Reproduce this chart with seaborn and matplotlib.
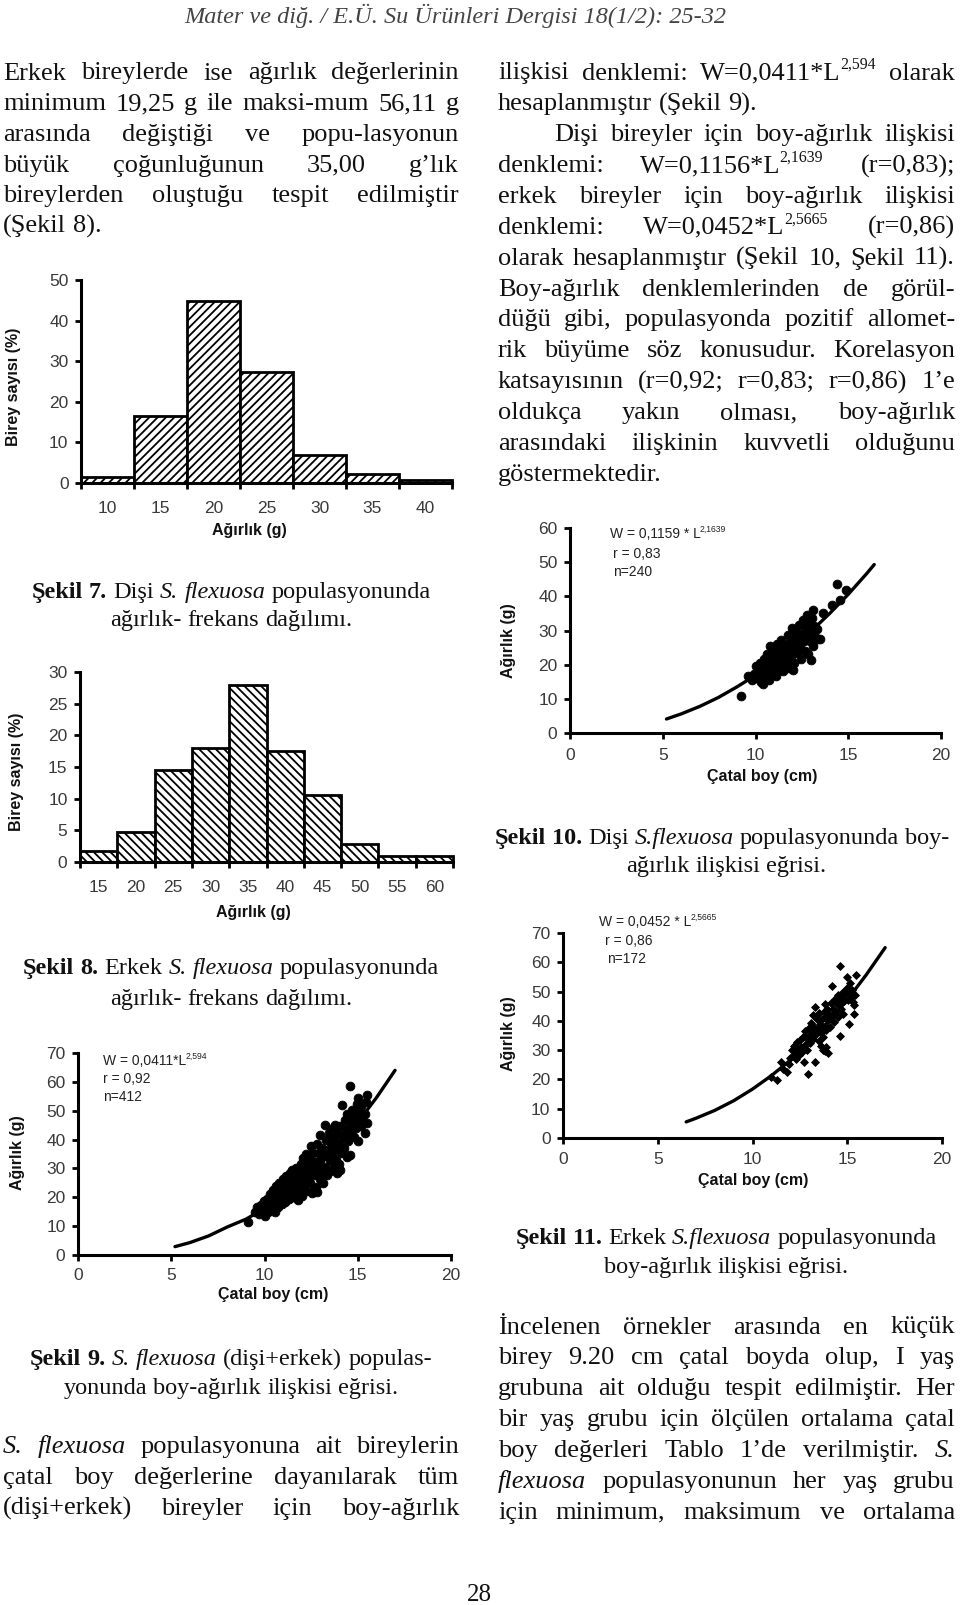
import numpy as np
import pandas as pd
import matplotlib
matplotlib.use("Agg")
import matplotlib.pyplot as plt
import seaborn as sns

# Page: two text columns with five figures (Şekil 7-11)

# Şekil 7 - dişi, ağırlık-frekans (%)
f7_bins = ["10", "15", "20", "25", "30", "35", "40"]
f7_pct = [1.5, 16.6, 44.8, 27.3, 7.0, 2.3, 0.8]

# Şekil 8 - erkek, ağırlık-frekans (%)
f8_bins = ["15", "20", "25", "30", "35", "40", "45", "50", "55", "60"]
f8_pct = [1.7, 4.7, 14.5, 18.0, 28.0, 17.5, 10.6, 2.9, 1.0, 1.0]

# Şekil 9 - dişi+erkek, boy (cm) / ağırlık (g)
f9_points = [
    (9.13, 11.3), (9.5, 15.0), (9.6, 16.8), (9.7, 14.2), (9.8, 17.5), (9.9, 15.6), (9.95, 18.8), (10.0, 13.6),
    (10.1, 16.2), (10.15, 19.5), (10.2, 14.8), (10.25, 17.8), (10.3, 21.0), (10.35, 15.5), (10.4, 19.0),
    (10.45, 22.5), (10.5, 17.2), (10.5, 20.3), (10.55, 14.9), (10.6, 23.8), (10.65, 18.6), (10.7, 21.5),
    (10.75, 16.6), (10.8, 25.0), (10.85, 19.8), (10.9, 22.8), (10.95, 17.8), (11.0, 26.2), (11.0, 20.9),
    (11.05, 23.9), (11.1, 18.5), (11.15, 27.3), (11.2, 21.7), (11.25, 25.0), (11.3, 19.4), (11.35, 28.4),
    (11.4, 23.0), (11.45, 26.1), (11.5, 20.2), (11.5, 29.6), (11.55, 24.4), (11.6, 27.5), (11.65, 21.4),
    (11.7, 30.2), (11.75, 25.6), (11.8, 18.9), (11.85, 28.7), (11.9, 23.2), (11.95, 31.4), (12.0, 26.8),
    (12.0, 20.6), (12.05, 33.6), (12.1, 24.4), (12.15, 29.6), (12.2, 35.0), (12.25, 22.1), (12.3, 31.8),
    (12.35, 27.2), (12.4, 33.4), (12.45, 24.9), (12.5, 37.6), (12.5, 29.9), (12.55, 21.5), (12.6, 35.5),
    (12.6, 22.3), (12.65, 27.6), (12.7, 32.2), (12.75, 23.7), (12.8, 38.6), (12.8, 22.0), (12.85, 30.4),
    (12.9, 35.3), (12.95, 26.2), (13.0, 41.7), (13.0, 32.8), (13.05, 28.9), (13.1, 37.2), (13.15, 24.8),
    (13.2, 34.7), (13.25, 45.1), (13.25, 30.6), (13.3, 39.8), (13.35, 27.6), (13.4, 36.3), (13.45, 42.4),
    (13.5, 32.9), (13.5, 29.0), (13.55, 38.7), (13.6, 34.8), (13.65, 44.0), (13.7, 31.1), (13.75, 40.5),
    (13.8, 45.1), (13.8, 36.6), (13.85, 33.0), (13.9, 28.4), (13.95, 42.0), (14.0, 38.5), (14.0, 31.6),
    (14.05, 29.5), (14.05, 44.8), (14.1, 35.4), (14.15, 51.9), (14.2, 40.6), (14.25, 37.1), (14.3, 46.7),
    (14.35, 42.8), (14.4, 33.8), (14.45, 48.9), (14.5, 44.1), (14.5, 39.4), (14.56, 58.7), (14.56, 34.7),
    (14.6, 47.3), (14.65, 42.0), (14.7, 50.2), (14.75, 45.4), (14.8, 40.8), (14.85, 48.6), (14.9, 43.9),
    (14.95, 52.5), (15.0, 46.9), (15.04, 54.4), (15.04, 39.4), (15.1, 49.7), (15.15, 44.6), (15.2, 51.8),
    (15.25, 47.9), (15.3, 45.7), (15.4, 42.2), (15.4, 48.8), (15.45, 53.0), (15.5, 55.6), (15.5, 45.7),
]
f9_curve = [(5.2, 2.9), (6, 4.3), (7, 6.6), (8, 9.7), (9, 12.4), (10, 16.1), (11, 20.6), (12, 25.6),
            (13, 31.5), (14, 38.3), (15, 46.0), (16, 54.5), (17, 64.0)]

# Şekil 10 - dişi
f10_points = [
    (9.22, 10.7), (9.6, 16.6), (9.8, 15.5), (9.9, 17.4), (10.0, 19.5), (10.1, 16.2), (10.2, 18.1),
    (10.25, 20.4), (10.3, 15.0), (10.35, 17.2), (10.4, 14.3), (10.45, 21.6), (10.5, 19.0), (10.55, 16.4),
    (10.6, 23.0), (10.65, 18.0), (10.7, 20.8), (10.75, 15.6), (10.8, 25.6), (10.85, 22.3), (10.9, 17.5),
    (10.95, 19.7), (11.0, 24.1), (11.05, 21.1), (11.1, 16.8), (11.15, 26.0), (11.2, 22.8), (11.25, 19.0),
    (11.3, 24.9), (11.35, 20.6), (11.4, 27.3), (11.45, 23.6), (11.5, 18.2), (11.55, 21.9), (11.6, 25.8),
    (11.65, 20.2), (11.7, 23.3), (11.75, 28.6), (11.8, 19.0), (11.85, 26.7), (11.9, 22.1), (11.95, 30.6),
    (12.0, 24.6), (12.0, 18.5), (12.05, 28.3), (12.1, 20.5), (12.15, 26.3), (12.2, 29.9), (12.25, 23.4),
    (12.3, 27.5), (12.35, 31.5), (12.4, 25.1), (12.45, 21.6), (12.5, 29.0), (12.55, 33.0), (12.6, 26.8),
    (12.65, 24.0), (12.7, 30.8), (12.75, 28.0), (12.8, 34.4), (12.85, 23.0), (12.9, 32.1), (12.95, 27.0),
    (13.0, 29.9), (13.0, 21.5), (13.05, 33.8), (13.1, 36.1), (13.1, 25.6), (13.15, 31.2), (13.2, 28.2),
    (13.3, 30.5), (13.35, 27.6), (13.48, 27.5), (13.66, 35.1), (14.1, 37.6), (14.41, 43.7), (14.55, 39.0),
    (14.86, 41.95),
]
f10_curve = [(5.2, 4.1), (6, 5.6), (7, 7.8), (8, 10.4), (9, 13.5), (10, 16.9), (11, 20.8), (12, 25.1),
             (13, 29.8), (14, 35.0), (15, 40.6), (16, 46.7), (16.4, 49.3)]

# Şekil 11 - erkek
f11_points = [
    (11.0, 20.8), (11.28, 19.7), (11.5, 26.0), (11.63, 23.7), (11.8, 22.6), (11.9, 25.2), (12.0, 27.4),
    (12.1, 30.2), (12.15, 28.0), (12.2, 31.5), (12.25, 29.2), (12.3, 27.0), (12.35, 32.8), (12.4, 30.0),
    (12.45, 28.4), (12.5, 33.5), (12.55, 31.0), (12.6, 29.4), (12.65, 34.6), (12.7, 26.0), (12.75, 36.5),
    (12.8, 32.0), (12.85, 34.0), (12.9, 30.2), (12.95, 22.0), (13.0, 37.5), (13.0, 35.0), (13.05, 32.6),
    (13.1, 39.4), (13.15, 36.2), (13.2, 42.1), (13.2, 33.8), (13.25, 38.0), (13.3, 44.7), (13.3, 26.0),
    (13.35, 35.6), (13.4, 40.5), (13.45, 37.2), (13.5, 33.2), (13.5, 42.8), (13.55, 38.8), (13.6, 36.0),
    (13.6, 31.5), (13.65, 40.8), (13.7, 34.5), (13.7, 30.0), (13.75, 43.0), (13.8, 45.6), (13.8, 38.2),
    (13.85, 41.0), (13.85, 29.6), (13.9, 31.1), (13.9, 36.8), (13.95, 44.0), (14.0, 29.0), (14.0, 40.2),
    (14.05, 42.5), (14.1, 38.0), (14.15, 46.0), (14.19, 51.8), (14.2, 41.5), (14.25, 44.2), (14.3, 39.6),
    (14.35, 47.5), (14.4, 43.0), (14.45, 45.6), (14.5, 41.2), (14.5, 48.8), (14.55, 46.2), (14.63, 58.6),
    (14.63, 34.7), (14.65, 44.0), (14.7, 47.8), (14.75, 50.0), (14.8, 42.4), (14.85, 46.8), (14.9, 49.2),
    (14.98, 55.0), (15.0, 51.2), (15.05, 47.0), (15.07, 39.0), (15.1, 49.6), (15.15, 53.0), (15.2, 48.2),
    (15.25, 50.6), (15.3, 46.4), (15.38, 45.3), (15.38, 42.5), (15.4, 49.0), (15.47, 55.5),
]
f11_curve = [(6.5, 5.5), (7, 6.7), (8, 9.4), (9, 12.7), (10, 16.7), (11, 21.3), (12, 26.6), (13, 32.7),
             (14, 39.5), (15, 47.2), (16, 55.7), (17, 65.0)]

sns.set_theme(style="ticks")
plt.rcParams["font.family"] = ["Liberation Sans", "DejaVu Sans"]
plt.rcParams["hatch.linewidth"] = 1.3

W_PX, H_PX = 960, 1605
fig = plt.figure(figsize=(9.6, 16.05), dpi=100)
fig.patch.set_facecolor("white")
renderer = fig.canvas.get_renderer()

SERIF = "Liberation Serif"
BODY = 19.0
CAP = 17.5
TICK_FS = 12.5
LAB_FS = 11.5


def fy(y):
    return 1 - y / H_PX


def axes_px(left, top, right, bottom):
    return fig.add_axes([left / W_PX, fy(bottom), (right - left) / W_PX, (bottom - top) / H_PX])


def style_axes(ax, xpad, ypad=5):
    for s in ["top", "right"]:
        ax.spines[s].set_visible(False)
    for s in ["left", "bottom"]:
        ax.spines[s].set_linewidth(2.2)
        ax.spines[s].set_color("black")
    ax.tick_params(which="major", direction="out", length=4, width=2, color="black",
                   labelsize=TICK_FS, labelcolor="#3a3a3a")
    ax.tick_params(axis="y", pad=ypad)
    ax.tick_params(axis="x", pad=xpad)
    ax.set_xlabel("")
    ax.set_ylabel("")
    ax.set_facecolor("none")


def histogram(ax, bins, pct, ymax, step, hatch, label_pad):
    sns.barplot(x=bins, y=pct, color="white", edgecolor="black", linewidth=2,
                width=1.0, saturation=1, errorbar=None, ax=ax)
    for p in ax.patches:
        p.set_hatch(hatch)
        p.set_facecolor("white")
        p.set_clip_on(False)
    n = len(bins)
    ax.set_xlim(-0.5, n - 0.5)
    ax.set_ylim(0, ymax)
    ax.set_yticks(np.arange(0, ymax + 1, step))
    ax.set_xticks(np.arange(n + 1) - 0.5, [""] * (n + 1))
    ax.set_xticks(np.arange(n), bins, minor=True)
    style_axes(ax, xpad=0)
    ax.tick_params(axis="x", which="minor", length=0, pad=label_pad,
                   labelsize=TICK_FS, labelcolor="#3a3a3a")


def scatter(ax, points, curve, ymax, marker, size, xpad):
    pts = pd.DataFrame(points, columns=["boy", "agirlik"])
    crv = pd.DataFrame(curve, columns=["boy", "agirlik"])
    sns.lineplot(data=crv, x="boy", y="agirlik", color="black", linewidth=2.4, ax=ax)
    sns.scatterplot(data=pts, x="boy", y="agirlik", color="black", marker=marker, s=size,
                    edgecolor="black", linewidth=0.6, ax=ax)
    ax.set_xlim(0, 20)
    ax.set_ylim(0, ymax)
    ax.set_xticks(np.arange(0, 21, 5))
    ax.set_yticks(np.arange(0, ymax + 1, 10))
    style_axes(ax, xpad=xpad)


def axis_label(x, y, s, rot=0):
    fig.text(x / W_PX, fy(y), s, fontsize=LAB_FS, fontweight="bold", rotation=rot,
             ha="center", va="center", color="#111111")


def eq_label(x, y, base, sup, fs=10):
    t = fig.text(x / W_PX, fy(y), base, fontsize=fs, va="baseline", color="#222222")
    w = t.get_window_extent(renderer).width
    fig.text((x + w - 1) / W_PX, fy(y - fs * 0.6), sup, fontsize=fs * 0.62,
             va="baseline", color="#222222")


# ---- charts ----
ax7 = axes_px(81, 280, 452, 483)
histogram(ax7, f7_bins, f7_pct, 50, 10, "////", 13)
axis_label(249, 531, "Ağırlık (g)")
axis_label(14, 387, "Birey sayısı (%)", 90)

ax8 = axes_px(80, 672, 453, 862)
histogram(ax8, f8_bins, f8_pct, 30, 5, "\\\\\\\\", 13)
axis_label(253, 912, "Ağırlık (g)")
axis_label(17, 772, "Birey sayısı (%)", 90)

ax9 = axes_px(78, 1053, 451, 1255)
scatter(ax9, f9_points, f9_curve, 70, "o", 40, 5.5)
axis_label(273, 1295, "Çatal boy (cm)")
axis_label(18, 1153, "Ağırlık (g)", 90)
eq_label(103, 1065, "W = 0,0411*L", "2,594")
fig.text(103 / W_PX, fy(1083), "r = 0,92", fontsize=10, va="baseline", color="#222222")
fig.text(103 / W_PX, fy(1101), "n=412", fontsize=10, va="baseline", color="#222222")

ax10 = axes_px(570, 528, 941, 733)
scatter(ax10, f10_points, f10_curve, 60, "o", 40, 7)
axis_label(762, 777, "Çatal boy (cm)")
axis_label(509, 641, "Ağırlık (g)", 90)
eq_label(610, 538, "W = 0,1159 * L", "2,1639")
fig.text(613 / W_PX, fy(558), "r = 0,83", fontsize=10, va="baseline", color="#222222")
fig.text(613 / W_PX, fy(576), "n=240", fontsize=10, va="baseline", color="#222222")

ax11 = axes_px(563, 933, 942, 1138)
scatter(ax11, f11_points, f11_curve, 70, "D", 16, 6)
axis_label(753, 1181, "Çatal boy (cm)")
axis_label(509, 1034, "Ağırlık (g)", 90)
eq_label(599, 926, "W = 0,0452 * L", "2,5665")
fig.text(605 / W_PX, fy(945), "r = 0,86", fontsize=10, va="baseline", color="#222222")
fig.text(607 / W_PX, fy(963), "n=172", fontsize=10, va="baseline", color="#222222")


# ---- page text ----
def parse(word):
    style = ""
    if word.startswith("**"):
        style, word = "b", word[2:]
    elif word.startswith("_"):
        style, word = "i", word[1:]
    sup = None
    if "^" in word:
        word, sup = word.split("^")
    return word, style, sup


def make_words(line, y, size):
    items = []
    for w in line.split():
        word, st, sup = parse(w)
        t = fig.text(0, fy(y), word, fontsize=size, family=SERIF,
                     style="italic" if st == "i" else "normal",
                     weight="bold" if st == "b" else "normal",
                     va="baseline", color="#111111")
        wd = t.get_window_extent(renderer).width
        s_art, s_wd = None, 0
        if sup:
            s_art = fig.text(0, fy(y - size * 0.55), sup, fontsize=size * 0.6, family=SERIF,
                             va="baseline", color="#111111")
            s_wd = s_art.get_window_extent(renderer).width
        items.append((t, wd, s_art, s_wd))
    return items


def text_line(line, x0, x1, y, mode="justify", size=BODY):
    while True:
        items = make_words(line, y, size)
        widths = [i[1] + i[3] for i in items]
        space = 0.25 * size * 100 / 72
        n_gaps = max(len(items) - 1, 1)
        if mode == "justify" and (x1 - x0 - sum(widths)) / n_gaps < 0.55 * space:
            for t, _, s_art, _ in items:
                t.remove()
                if s_art is not None:
                    s_art.remove()
            size *= 0.98
            continue
        break
    total = sum(widths) + space * (len(items) - 1)
    if mode == "justify" and len(items) > 1:
        gap = (x1 - x0 - sum(widths)) / (len(items) - 1)
        start = x0
    elif mode == "center":
        gap, start = space, (x0 + x1) / 2 - total / 2
    else:
        gap, start = space, x0
    x = start
    for (t, wd, s_art, s_wd), tw in zip(items, widths):
        t.set_x(x / W_PX)
        if s_art is not None:
            s_art.set_x((x + wd - 1) / W_PX)
        x += tw + gap


def paragraph(lines, x0, x1, y0, step, last_left=(), indent=None):
    for i, line in enumerate(lines):
        mode = "left" if i in last_left else "justify"
        left = x0
        if indent and i in indent:
            left = indent[i]
        text_line(line, left, x1, y0 + i * step, mode)


fig.text(455 / W_PX, fy(23), "Mater ve diğ. / E.Ü. Su Ürünleri Dergisi 18(1/2): 25-32",
         fontsize=17.5, family=SERIF, style="italic", ha="center", va="baseline", color="#444444")

left_top = [
    "Erkek bireylerde ise ağırlık değerlerinin",
    "minimum 19,25 g ile maksi-mum 56,11 g",
    "arasında değiştiği ve popu-lasyonun",
    "büyük çoğunluğunun 35,00 g’lık",
    "bireylerden oluştuğu tespit edilmiştir",
    "(Şekil 8).",
]
paragraph(left_top, 3, 459, 79.5, 30.7, last_left=(5,))

right_top = [
    "ilişkisi denklemi: W=0,0411*L^2,594 olarak",
    "hesaplanmıştır (Şekil 9).",
    "Dişi bireyler için boy-ağırlık ilişkisi",
    "denklemi: W=0,1156*L^2,1639 (r=0,83);",
    "erkek bireyler için boy-ağırlık ilişkisi",
    "denklemi: W=0,0452*L^2,5665 (r=0,86)",
    "olarak hesaplanmıştır (Şekil 10, Şekil 11).",
    "Boy-ağırlık denklemlerinden de görül-",
    "düğü gibi, populasyonda pozitif allomet-",
    "rik büyüme söz konusudur. Korelasyon",
    "katsayısının (r=0,92; r=0,83; r=0,86) 1’e",
    "oldukça yakın olması, boy-ağırlık",
    "arasındaki ilişkinin kuvvetli olduğunu",
    "göstermektedir.",
]
paragraph(right_top, 498, 955, 79.5, 30.87, last_left=(1, 13), indent={2: 554})

left_bottom = [
    "_S. _flexuosa populasyonuna ait bireylerin",
    "çatal boy değerlerine dayanılarak tüm",
    "(dişi+erkek) bireyler için boy-ağırlık",
]
paragraph(left_bottom, 3, 459, 1453, 30.8)

right_bottom = [
    "İncelenen örnekler arasında en küçük",
    "birey 9.20 cm çatal boyda olup, I yaş",
    "grubuna ait olduğu tespit edilmiştir. Her",
    "bir yaş grubu için ölçülen ortalama çatal",
    "boy değerleri Tablo 1’de verilmiştir. _S.",
    "_flexuosa populasyonunun her yaş grubu",
    "için minimum, maksimum ve ortalama",
]
paragraph(right_bottom, 498, 955, 1333.5, 30.87)

captions = [
    ("**Şekil **7. Dişi _S. _flexuosa populasyonunda", 231, 598),
    ("ağırlık- frekans dağılımı.", 231, 626),
    ("**Şekil **8. Erkek _S. _flexuosa populasyonunda", 231, 974),
    ("ağırlık- frekans dağılımı.", 231, 1005),
    ("**Şekil **9. _S. _flexuosa (dişi+erkek) populas-", 231, 1365),
    ("yonunda boy-ağırlık ilişkisi eğrisi.", 231, 1394),
    ("**Şekil **10. Dişi _S.flexuosa populasyonunda boy-", 722, 844),
    ("ağırlık ilişkisi eğrisi.", 726, 872),
    ("**Şekil **11. Erkek _S.flexuosa populasyonunda", 726, 1244),
    ("boy-ağırlık ilişkisi eğrisi.", 726, 1273),
]
for text, cx, y in captions:
    text_line(text, cx - 300, cx + 300, y, mode="center", size=CAP)

fig.text(479 / W_PX, fy(1601), "28", fontsize=18, family=SERIF, ha="center",
         va="baseline", color="#111111")

fig.savefig("out.png", dpi=100, facecolor="white")
